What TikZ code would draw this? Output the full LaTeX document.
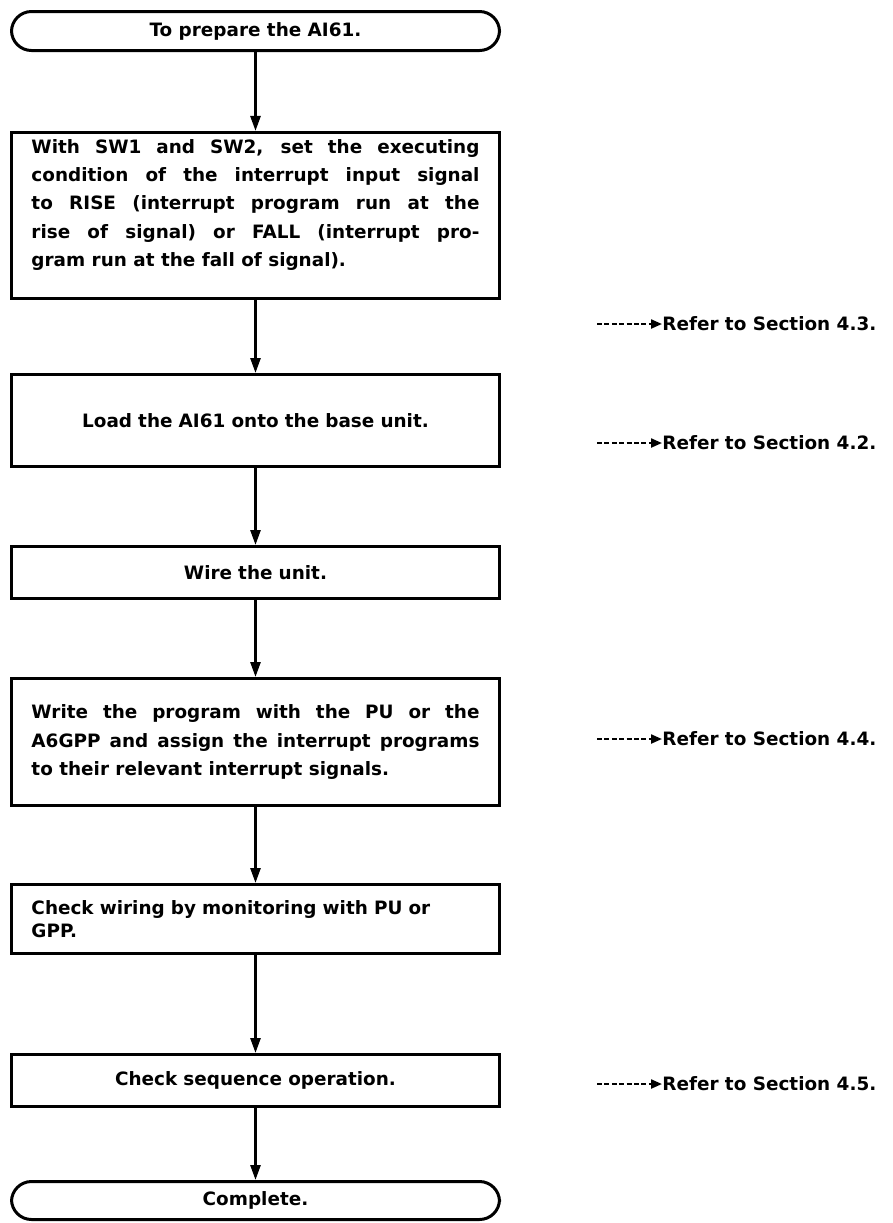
\documentclass[tikz,border=0pt]{standalone}
\usepackage{fontspec}
\setmainfont{DejaVu Sans}
\usetikzlibrary{arrows.meta,positioning}
\tolerance=10000 \hbadness=10000

\begin{document}
\begin{tikzpicture}[
    x=0.5pt, y=-0.5pt,
    every node/.style={font=\fontsize{9.2}{14.2}\selectfont\bfseries},
    term/.style={draw, line width=1.5pt, rounded corners=10pt, minimum width=244pt, minimum height=19.5pt},
    stepbox/.style={draw, line width=1.5pt, minimum width=244pt, text width=224pt, align=justify},
    flow/.style={line width=1.3pt, -{Triangle[length=7.5pt, width=5pt]}},
    refnote/.style={inner sep=0pt},
    refline/.style={line width=1.1pt, dash pattern=on 2.5pt off 1.2pt, -{Triangle[length=5.5pt, width=4.5pt]}}
  ]
  \useasboundingbox (0,0) rectangle (893,1223);

  \node[term] (start) at (255.5,31) {To prepare the AI61.};
  \node[stepbox, minimum height=83pt] (set) at (255.5,215.5) {With SW1 and SW2, set the executing\linebreak
    condition of the interrupt input signal\linebreak
    to RISE (interrupt program run at the\linebreak
    rise of signal) or FALL (interrupt pro-\linebreak
    gram run at the fall of signal).\rule[-12.6pt]{0pt}{12.6pt}};
  \node[stepbox, align=center, minimum height=46pt] (load) at (255.5,420.5) {Load the AI61 onto the base unit.};
  \node[stepbox, align=center, minimum height=26pt] (wire) at (255.5,572.5) {Wire the unit.};
  \node[stepbox, minimum height=63.5pt] (write) at (255.5,742) {Write the program with the PU or the\linebreak
    A6GPP and assign the interrupt programs\linebreak
    to their relevant interrupt signals.};
  \node[stepbox, align=left, minimum height=34.5pt, font=\fontsize{9.2}{11.5}\selectfont\bfseries] (monitor) at (255.5,919) {Check wiring by monitoring with PU or\\ GPP.};
  \node[stepbox, align=center, minimum height=26pt] (sequence) at (255.5,1080.5) {Check sequence operation.};
  \node[term, minimum height=19pt] (finish) at (255.5,1200.5) {Complete.};

  \draw[flow] (start) -- (set);
  \draw[flow] (set) -- (load);
  \draw[flow] (load) -- (wire);
  \draw[flow] (wire) -- (write);
  \draw[flow] (write) -- (monitor);
  \draw[flow] (monitor) -- (sequence);
  \draw[flow] (sequence) -- (finish);

  % references
  \coordinate (d43) at (597,324);
  \coordinate (d42) at (597,443);
  \coordinate (d44) at (597,739);
  \coordinate (d45) at (597,1084);
  \node[refnote, right=32.5pt of d43] (ref43) {Refer to Section 4.3.};
  \node[refnote, right=32.5pt of d42] (ref42) {Refer to Section 4.2.};
  \node[refnote, right=32.5pt of d44] (ref44) {Refer to Section 4.4.};
  \node[refnote, right=32.5pt of d45] (ref45) {Refer to Section 4.5.};
  \draw[refline] (d43) -- (ref43);
  \draw[refline] (d42) -- (ref42);
  \draw[refline] (d44) -- (ref44);
  \draw[refline] (d45) -- (ref45);
\end{tikzpicture}
\end{document}
